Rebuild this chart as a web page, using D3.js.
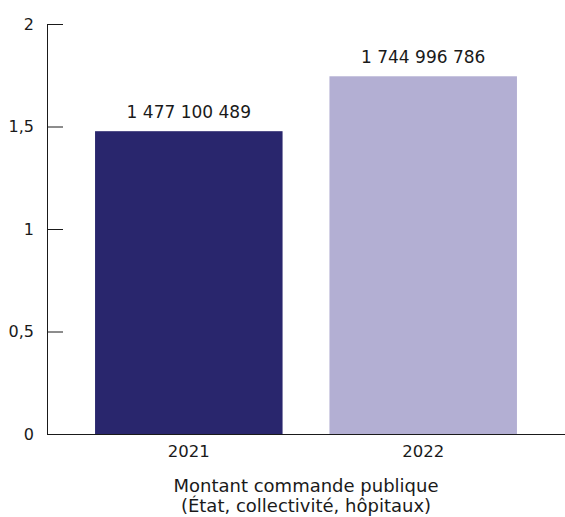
<!DOCTYPE html>
<html>
<head>
<meta charset="utf-8">
<script src="https://cdn.jsdelivr.net/npm/d3@7"></script>
<style>
  html, body { margin: 0; padding: 0; background: #fff; }
  svg { display: block; font-family: "DejaVu Sans", sans-serif; }
</style>
</head>
<body>
<svg id="chart" width="565" height="517"></svg>
<script>
// Montant de la commande publique (en milliards d'euros)
const years = ["2021", "2022"];
const amounts = [1477100489, 1744996786];
const barColors = ["#29266d", "#b3afd3"];
const yTicks = [0, 0.5, 1, 1.5, 2];
const axisTitle = ["Montant commande publique", "(État, collectivité, hôpitaux)"];

const FONT = "DejaVu Sans, sans-serif";
const INK = "#1a1a1a";

const svg = d3.select("#chart");
const margin = { left: 47, right: 0, top: 24, bottom: 83 };
const W = 565, H = 517;

const x = d3.scaleBand()
  .domain(years)
  .range([margin.left, W - margin.right])
  .paddingInner(0.2)
  .paddingOuter(0.205);

const y = d3.scaleLinear()
  .domain([0, 2])
  .range([H - margin.bottom, margin.top]);

const frNum = d3.formatLocale({ decimal: ",", thousands: " ", grouping: [3], currency: ["", " €"] });
const fmtTick = frNum.format(",.1~f");
const fmtVal = frNum.format(",d");

// Bars (values in billions)
svg.append("g")
  .selectAll("rect")
  .data(years)
  .join("rect")
  .attr("x", d => x(d))
  .attr("width", x.bandwidth())
  .attr("y", (d, i) => y(amounts[i] / 1e9))
  .attr("height", (d, i) => y(0) - y(amounts[i] / 1e9))
  .attr("fill", (d, i) => barColors[i]);

// Value labels
svg.append("g")
  .selectAll("text")
  .data(years)
  .join("text")
  .attr("x", d => x(d) + x.bandwidth() / 2)
  .attr("y", (d, i) => y(amounts[i] / 1e9) - 13.5)
  .attr("text-anchor", "middle")
  .attr("font-size", 17)
  .attr("font-family", FONT)
  .attr("fill", INK)
  .text((d, i) => fmtVal(amounts[i]));

// Y axis: ticks point inward
const yAxis = svg.append("g")
  .attr("transform", `translate(${margin.left},0)`)
  .call(d3.axisRight(y).tickValues(yTicks).tickSize(16).tickFormat(fmtTick));
yAxis.select(".domain").attr("stroke", INK).attr("d", `M0.5,${y(2)}V${y(0)}`);
yAxis.selectAll(".tick line").attr("stroke", INK);
yAxis.selectAll(".tick text")
  .attr("x", -13)
  .attr("dy", "0.32em")
  .attr("text-anchor", "end")
  .attr("font-size", 16)
  .attr("font-family", FONT)
  .attr("fill", INK);

// X axis
const xAxis = svg.append("g")
  .attr("transform", `translate(0,${y(0)})`)
  .call(d3.axisBottom(x).tickSize(0).tickPadding(11));
xAxis.select(".domain").attr("stroke", INK).attr("d", `M${margin.left},0.5H${W}`);
xAxis.selectAll(".tick text")
  .attr("font-size", 16.5)
  .attr("font-family", FONT)
  .attr("fill", INK);

// Axis title, two lines
svg.append("g")
  .selectAll("text")
  .data(axisTitle)
  .join("text")
  .attr("x", (margin.left + W) / 2)
  .attr("y", (d, i) => 491.5 + i * 20)
  .attr("text-anchor", "middle")
  .attr("font-size", 18)
  .attr("font-family", FONT)
  .attr("fill", INK)
  .text(d => d);
</script>
</body>
</html>
